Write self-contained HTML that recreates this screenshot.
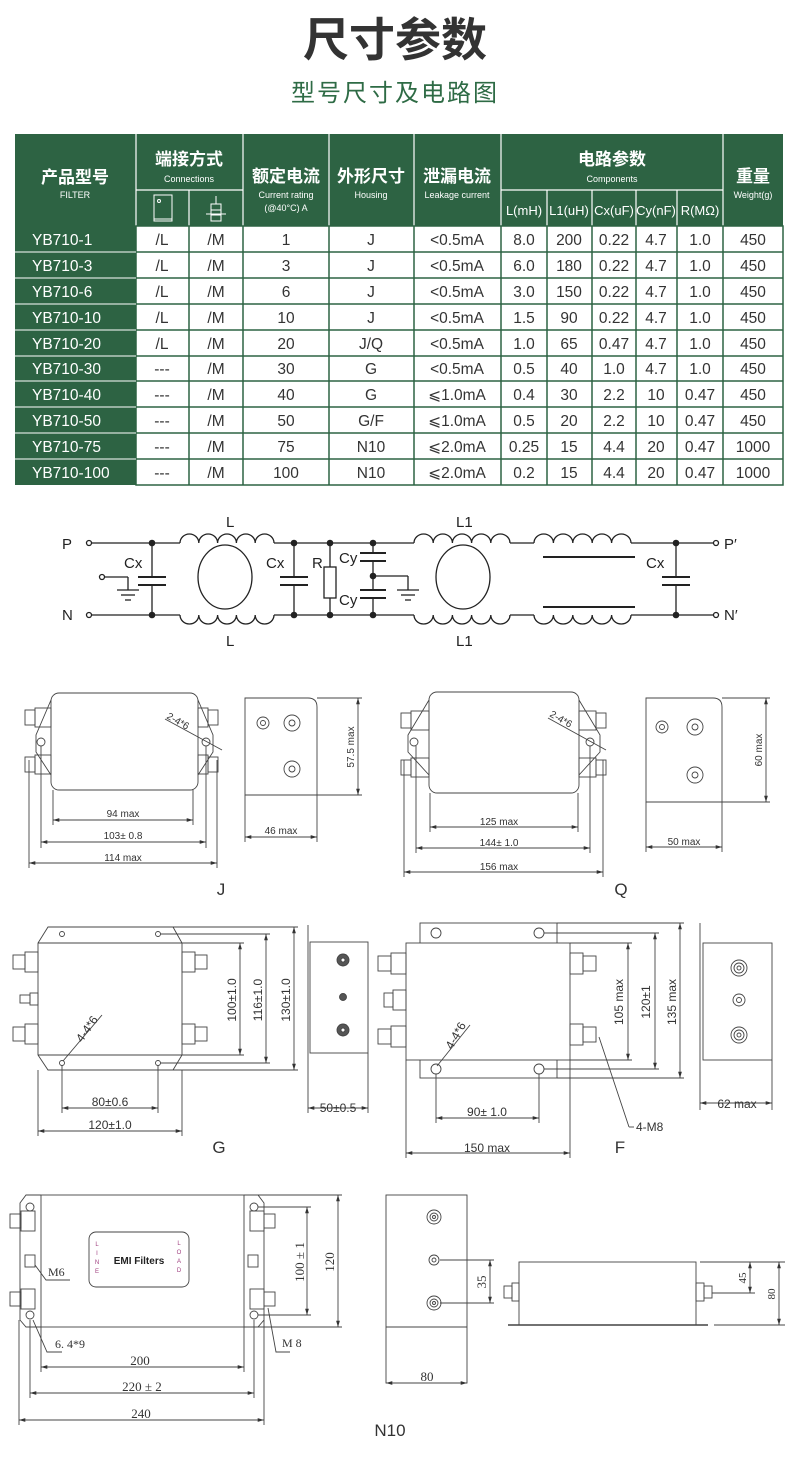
<!DOCTYPE html>
<html><head><meta charset="utf-8"><style>
html,body{margin:0;padding:0;background:#fff;}
svg{display:block;}
.t{font-family:"Liberation Sans","Noto Sans CJK SC",sans-serif;}
</style></head><body>
<svg width="790" height="1468" viewBox="0 0 790 1468" xmlns="http://www.w3.org/2000/svg" class="t">
<defs>
<marker id="a" viewBox="0 0 10 10" refX="10" refY="5" markerWidth="7" markerHeight="7" orient="auto-start-reverse"><path d="M0,2 L10,5 L0,8 z" fill="#333"/></marker>
</defs>
<!-- Titles -->
<text x="395" y="56" text-anchor="middle" font-size="46" font-weight="bold" fill="#333" font-family="Liberation Sans, Noto Sans CJK SC, sans-serif">尺寸参数</text>
<text x="395" y="101" text-anchor="middle" font-size="24" fill="#2e6b45" font-family="Liberation Sans, Noto Sans CJK SC, sans-serif" letter-spacing="2">型号尺寸及电路图</text>

<!-- Table header -->
<rect x="15" y="134" width="768" height="92" fill="#2d6343"/>
<g stroke="#fff" stroke-width="1.2">
<line x1="136" y1="134" x2="136" y2="226"/><line x1="243" y1="134" x2="243" y2="226"/>
<line x1="329" y1="134" x2="329" y2="226"/><line x1="414" y1="134" x2="414" y2="226"/>
<line x1="501" y1="134" x2="501" y2="226"/><line x1="723" y1="134" x2="723" y2="226"/>
<line x1="136" y1="190" x2="243" y2="190"/><line x1="501" y1="190" x2="723" y2="190"/>
<line x1="189" y1="190" x2="189" y2="226"/>
<line x1="547" y1="190" x2="547" y2="226"/><line x1="592" y1="190" x2="592" y2="226"/>
<line x1="636" y1="190" x2="636" y2="226"/><line x1="677" y1="190" x2="677" y2="226"/>
</g>
<g fill="#fff" text-anchor="middle" font-family="Liberation Sans, Noto Sans CJK SC, sans-serif">
<text x="75" y="183" font-size="17" font-weight="bold">产品型号</text>
<text x="75" y="198" font-size="9">FILTER</text>
<text x="189" y="165" font-size="17" font-weight="bold">端接方式</text>
<text x="189" y="182" font-size="9">Connections</text>
<text x="286" y="182" font-size="17" font-weight="bold">额定电流</text>
<text x="286" y="198" font-size="9">Current rating</text>
<text x="286" y="211" font-size="9">(@40°C)  A</text>
<text x="371" y="182" font-size="17" font-weight="bold">外形尺寸</text>
<text x="371" y="198" font-size="9">Housing</text>
<text x="457" y="182" font-size="17" font-weight="bold">泄漏电流</text>
<text x="457" y="198" font-size="9">Leakage current</text>
<text x="612" y="165" font-size="17" font-weight="bold">电路参数</text>
<text x="612" y="182" font-size="9">Components</text>
<text x="753" y="182" font-size="17" font-weight="bold">重量</text>
<text x="753" y="198" font-size="9">Weight(g)</text>
<g font-size="13"><text x="524" y="215">L(mH)</text><text x="569" y="215">L1(uH)</text><text x="614" y="215">Cx(uF)</text><text x="656" y="215">Cy(nF)</text><text x="700" y="215">R(MΩ)</text></g>
</g>
<rect x="154" y="195" width="18" height="26" fill="none" stroke="#fff"/><line x1="154" y1="219" x2="172" y2="219" stroke="#fff"/><circle cx="159" cy="201" r="1.5" fill="none" stroke="#fff"/>
<g stroke="#fff" fill="none"><rect x="211" y="204" width="10" height="17"/><line x1="211" y1="210" x2="221" y2="210"/><line x1="211" y1="215" x2="221" y2="215"/><line x1="216" y1="196" x2="216" y2="204"/><line x1="206" y1="214" x2="226" y2="214"/></g>

<!-- Table body -->
<g font-size="15.5" fill="#333" text-anchor="middle">
<rect x="15" y="226" width="121" height="259" fill="#2d6343"/>
<rect x="136" y="226" width="647" height="259" fill="#fff" stroke="#2d6343" stroke-width="1.5"/>
<g stroke="#2d6343" stroke-width="1.5">
<line x1="189" y1="226" x2="189" y2="485"/><line x1="243" y1="226" x2="243" y2="485"/><line x1="329" y1="226" x2="329" y2="485"/><line x1="414" y1="226" x2="414" y2="485"/><line x1="501" y1="226" x2="501" y2="485"/><line x1="547" y1="226" x2="547" y2="485"/><line x1="592" y1="226" x2="592" y2="485"/><line x1="636" y1="226" x2="636" y2="485"/><line x1="677" y1="226" x2="677" y2="485"/><line x1="723" y1="226" x2="723" y2="485"/>
</g>
<g stroke="#2d6343" stroke-width="1.5">
<line x1="136" y1="252" x2="783" y2="252"/><line x1="136" y1="278" x2="783" y2="278"/><line x1="136" y1="304" x2="783" y2="304"/><line x1="136" y1="330" x2="783" y2="330"/><line x1="136" y1="356" x2="783" y2="356"/><line x1="136" y1="381" x2="783" y2="381"/><line x1="136" y1="407" x2="783" y2="407"/><line x1="136" y1="433" x2="783" y2="433"/><line x1="136" y1="459" x2="783" y2="459"/>
</g>
<g stroke="#fff" stroke-width="1"><line x1="15" y1="252" x2="136" y2="252"/><line x1="15" y1="278" x2="136" y2="278"/><line x1="15" y1="304" x2="136" y2="304"/><line x1="15" y1="330" x2="136" y2="330"/><line x1="15" y1="356" x2="136" y2="356"/><line x1="15" y1="381" x2="136" y2="381"/><line x1="15" y1="407" x2="136" y2="407"/><line x1="15" y1="433" x2="136" y2="433"/><line x1="15" y1="459" x2="136" y2="459"/></g>
<g fill="#fff" text-anchor="start"><text x="32" y="245">YB710-1</text><text x="32" y="271">YB710-3</text><text x="32" y="297">YB710-6</text><text x="32" y="323">YB710-10</text><text x="32" y="349">YB710-20</text><text x="32" y="374">YB710-30</text><text x="32" y="400">YB710-40</text><text x="32" y="426">YB710-50</text><text x="32" y="452">YB710-75</text><text x="32" y="478">YB710-100</text></g>
<g>
<text x="162" y="245">/L</text><text x="216" y="245">/M</text><text x="286" y="245">1</text><text x="371" y="245">J</text><text x="457" y="245">&lt;0.5mA</text><text x="524" y="245">8.0</text><text x="569" y="245">200</text><text x="614" y="245">0.22</text><text x="656" y="245">4.7</text><text x="700" y="245">1.0</text><text x="753" y="245">450</text>
<text x="162" y="271">/L</text><text x="216" y="271">/M</text><text x="286" y="271">3</text><text x="371" y="271">J</text><text x="457" y="271">&lt;0.5mA</text><text x="524" y="271">6.0</text><text x="569" y="271">180</text><text x="614" y="271">0.22</text><text x="656" y="271">4.7</text><text x="700" y="271">1.0</text><text x="753" y="271">450</text>
<text x="162" y="297">/L</text><text x="216" y="297">/M</text><text x="286" y="297">6</text><text x="371" y="297">J</text><text x="457" y="297">&lt;0.5mA</text><text x="524" y="297">3.0</text><text x="569" y="297">150</text><text x="614" y="297">0.22</text><text x="656" y="297">4.7</text><text x="700" y="297">1.0</text><text x="753" y="297">450</text>
<text x="162" y="323">/L</text><text x="216" y="323">/M</text><text x="286" y="323">10</text><text x="371" y="323">J</text><text x="457" y="323">&lt;0.5mA</text><text x="524" y="323">1.5</text><text x="569" y="323">90</text><text x="614" y="323">0.22</text><text x="656" y="323">4.7</text><text x="700" y="323">1.0</text><text x="753" y="323">450</text>
<text x="162" y="349">/L</text><text x="216" y="349">/M</text><text x="286" y="349">20</text><text x="371" y="349">J/Q</text><text x="457" y="349">&lt;0.5mA</text><text x="524" y="349">1.0</text><text x="569" y="349">65</text><text x="614" y="349">0.47</text><text x="656" y="349">4.7</text><text x="700" y="349">1.0</text><text x="753" y="349">450</text>
<text x="162" y="374">---</text><text x="216" y="374">/M</text><text x="286" y="374">30</text><text x="371" y="374">G</text><text x="457" y="374">&lt;0.5mA</text><text x="524" y="374">0.5</text><text x="569" y="374">40</text><text x="614" y="374">1.0</text><text x="656" y="374">4.7</text><text x="700" y="374">1.0</text><text x="753" y="374">450</text>
<text x="162" y="400">---</text><text x="216" y="400">/M</text><text x="286" y="400">40</text><text x="371" y="400">G</text><text x="457" y="400">⩽1.0mA</text><text x="524" y="400">0.4</text><text x="569" y="400">30</text><text x="614" y="400">2.2</text><text x="656" y="400">10</text><text x="700" y="400">0.47</text><text x="753" y="400">450</text>
<text x="162" y="426">---</text><text x="216" y="426">/M</text><text x="286" y="426">50</text><text x="371" y="426">G/F</text><text x="457" y="426">⩽1.0mA</text><text x="524" y="426">0.5</text><text x="569" y="426">20</text><text x="614" y="426">2.2</text><text x="656" y="426">10</text><text x="700" y="426">0.47</text><text x="753" y="426">450</text>
<text x="162" y="452">---</text><text x="216" y="452">/M</text><text x="286" y="452">75</text><text x="371" y="452">N10</text><text x="457" y="452">⩽2.0mA</text><text x="524" y="452">0.25</text><text x="569" y="452">15</text><text x="614" y="452">4.4</text><text x="656" y="452">20</text><text x="700" y="452">0.47</text><text x="753" y="452">1000</text>
<text x="162" y="478">---</text><text x="216" y="478">/M</text><text x="286" y="478">100</text><text x="371" y="478">N10</text><text x="457" y="478">⩽2.0mA</text><text x="524" y="478">0.2</text><text x="569" y="478">15</text><text x="614" y="478">4.4</text><text x="656" y="478">20</text><text x="700" y="478">0.47</text><text x="753" y="478">1000</text>
</g>
</g>

<!-- Circuit -->
<g stroke="#222" stroke-width="1.3" fill="none">
<line x1="91" y1="543" x2="180" y2="543"/><line x1="274" y1="543" x2="414" y2="543"/><line x1="510" y1="543" x2="534" y2="543"/><line x1="631" y1="543" x2="713" y2="543"/>
<line x1="91" y1="615" x2="180" y2="615"/><line x1="274" y1="615" x2="414" y2="615"/><line x1="510" y1="615" x2="534" y2="615"/><line x1="631" y1="615" x2="713" y2="615"/>
<path d="M180,543 a9.4,9 0 0 1 18.8,0 a9.4,9 0 0 1 18.8,0 a9.4,9 0 0 1 18.8,0 a9.4,9 0 0 1 18.8,0 a9.4,9 0 0 1 18.8,0"/>
<path d="M180,615 a9.4,9 0 0 0 18.8,0 a9.4,9 0 0 0 18.8,0 a9.4,9 0 0 0 18.8,0 a9.4,9 0 0 0 18.8,0 a9.4,9 0 0 0 18.8,0"/>
<path d="M414,543 a9.6,9 0 0 1 19.2,0 a9.6,9 0 0 1 19.2,0 a9.6,9 0 0 1 19.2,0 a9.6,9 0 0 1 19.2,0 a9.6,9 0 0 1 19.2,0"/>
<path d="M414,615 a9.6,9 0 0 0 19.2,0 a9.6,9 0 0 0 19.2,0 a9.6,9 0 0 0 19.2,0 a9.6,9 0 0 0 19.2,0 a9.6,9 0 0 0 19.2,0"/>
<path d="M534,543 a9.7,9 0 0 1 19.4,0 a9.7,9 0 0 1 19.4,0 a9.7,9 0 0 1 19.4,0 a9.7,9 0 0 1 19.4,0 a9.7,9 0 0 1 19.4,0"/>
<path d="M534,615 a9.7,9 0 0 0 19.4,0 a9.7,9 0 0 0 19.4,0 a9.7,9 0 0 0 19.4,0 a9.7,9 0 0 0 19.4,0 a9.7,9 0 0 0 19.4,0"/>
<circle cx="89" cy="543" r="2.5"/><circle cx="89" cy="615" r="2.5"/><circle cx="716" cy="543" r="2.5"/><circle cx="716" cy="615" r="2.5"/>
<ellipse cx="225" cy="577" rx="27" ry="32"/><ellipse cx="463" cy="577" rx="27" ry="32"/>
<line x1="543" y1="557" x2="635" y2="557" stroke-width="2"/><line x1="543" y1="607" x2="635" y2="607" stroke-width="2"/>
<!-- Cx1 -->
<line x1="152" y1="543" x2="152" y2="577"/><line x1="152" y1="585" x2="152" y2="615"/><line x1="138" y1="577" x2="166" y2="577" stroke-width="2"/><line x1="138" y1="585" x2="166" y2="585" stroke-width="2"/>
<circle cx="102" cy="577" r="2.5"/><line x1="104" y1="577" x2="128" y2="577"/><line x1="128" y1="577" x2="128" y2="590"/><line x1="117" y1="590" x2="139" y2="590"/><line x1="121" y1="595" x2="135" y2="595"/><line x1="125" y1="600" x2="131" y2="600"/>
<!-- Cx2 -->
<line x1="294" y1="543" x2="294" y2="577"/><line x1="294" y1="585" x2="294" y2="615"/><line x1="280" y1="577" x2="308" y2="577" stroke-width="2"/><line x1="280" y1="585" x2="308" y2="585" stroke-width="2"/>
<!-- R -->
<line x1="330" y1="543" x2="330" y2="567"/><rect x="324" y="567" width="12" height="31"/><line x1="330" y1="598" x2="330" y2="615"/>
<!-- Cy -->
<line x1="373" y1="543" x2="373" y2="553"/><line x1="360" y1="553" x2="386" y2="553" stroke-width="2"/><line x1="360" y1="561" x2="386" y2="561" stroke-width="2"/><line x1="373" y1="561" x2="373" y2="590"/><line x1="360" y1="590" x2="386" y2="590" stroke-width="2"/><line x1="360" y1="598" x2="386" y2="598" stroke-width="2"/><line x1="373" y1="598" x2="373" y2="615"/>
<line x1="373" y1="576" x2="408" y2="576"/><line x1="408" y1="576" x2="408" y2="590"/><line x1="397" y1="590" x2="419" y2="590"/><line x1="401" y1="595" x2="415" y2="595"/><line x1="405" y1="600" x2="411" y2="600"/>
<!-- Cx3 -->
<line x1="676" y1="543" x2="676" y2="577"/><line x1="676" y1="585" x2="676" y2="615"/><line x1="662" y1="577" x2="690" y2="577" stroke-width="2"/><line x1="662" y1="585" x2="690" y2="585" stroke-width="2"/>
</g>
<g fill="#222"><circle cx="152" cy="543" r="3.3"/><circle cx="152" cy="615" r="3.3"/><circle cx="294" cy="543" r="3.3"/><circle cx="294" cy="615" r="3.3"/><circle cx="330" cy="543" r="3.3"/><circle cx="330" cy="615" r="3.3"/><circle cx="373" cy="543" r="3.3"/><circle cx="373" cy="615" r="3.3"/><circle cx="373" cy="576" r="3.3"/><circle cx="676" cy="543" r="3.3"/><circle cx="676" cy="615" r="3.3"/></g>
<g font-size="15" fill="#222">
<text x="62" y="549">P</text><text x="62" y="620">N</text><text x="724" y="549">P′</text><text x="724" y="620">N′</text>
<text x="226" y="527">L</text><text x="226" y="646">L</text><text x="456" y="527">L1</text><text x="456" y="646">L1</text>
<text x="124" y="568">Cx</text><text x="266" y="568">Cx</text><text x="312" y="568">R</text><text x="339" y="563">Cy</text><text x="339" y="605">Cy</text><text x="646" y="568">Cx</text>
</g>

<!-- Drawings common style -->
<g stroke="#444" stroke-width="0.9" fill="none">
<!-- J front -->
<rect x="51" y="693" width="147" height="97" rx="8"/>
<path d="M51,700 L36,735 L36,752 L51,775 M198,700 L213,735 L213,752 L198,775"/>
<circle cx="41" cy="742" r="4"/><circle cx="206" cy="742" r="4"/>
<rect x="25" y="710" width="10" height="15"/><rect x="35" y="708" width="16" height="19"/><rect x="25" y="757" width="10" height="15"/><rect x="35" y="755" width="16" height="19"/>
<rect x="208" y="710" width="10" height="15"/><rect x="198" y="708" width="10" height="19"/><rect x="208" y="757" width="10" height="15"/><rect x="198" y="755" width="10" height="19"/>
<line x1="165" y1="719" x2="222" y2="750"/>
<line x1="53" y1="790" x2="53" y2="825"/><line x1="193" y1="790" x2="193" y2="825"/><line x1="41" y1="746" x2="41" y2="848"/><line x1="206" y1="746" x2="206" y2="848"/><line x1="29" y1="760" x2="29" y2="868"/><line x1="217" y1="760" x2="217" y2="868"/>
<line x1="53" y1="820" x2="193" y2="820" marker-start="url(#a)" marker-end="url(#a)"/>
<line x1="41" y1="842" x2="206" y2="842" marker-start="url(#a)" marker-end="url(#a)"/>
<line x1="29" y1="863" x2="217" y2="863" marker-start="url(#a)" marker-end="url(#a)"/>
<!-- J side -->
<path d="M245,698 L308,698 Q317,698 317,707 L317,795 L245,795 Z"/>
<line x1="245" y1="795" x2="245" y2="842"/><line x1="317" y1="795" x2="317" y2="842"/>
<line x1="245" y1="837" x2="317" y2="837" marker-start="url(#a)" marker-end="url(#a)"/>
<circle cx="263" cy="723" r="6"/><circle cx="263" cy="723" r="2.5"/><circle cx="292" cy="723" r="8"/><circle cx="292" cy="723" r="3"/><circle cx="292" cy="769" r="8"/><circle cx="292" cy="769" r="3"/>
<line x1="317" y1="698" x2="362" y2="698"/><line x1="317" y1="795" x2="362" y2="795"/>
<line x1="358" y1="698" x2="358" y2="795" marker-start="url(#a)" marker-end="url(#a)"/>
<!-- Q front -->
<rect x="429" y="692" width="150" height="101" rx="8"/>
<path d="M429,700 L408,735 L408,752 L429,775 M579,700 L600,735 L600,752 L579,775"/>
<circle cx="414" cy="742" r="4"/><circle cx="590" cy="742" r="4"/>
<rect x="401" y="713" width="10" height="15"/><rect x="411" y="711" width="18" height="19"/><rect x="401" y="760" width="10" height="15"/><rect x="411" y="758" width="18" height="19"/>
<rect x="596" y="713" width="10" height="15"/><rect x="579" y="711" width="17" height="19"/><rect x="596" y="760" width="10" height="15"/><rect x="579" y="758" width="17" height="19"/>
<line x1="548" y1="718" x2="606" y2="750"/>
<line x1="430" y1="793" x2="430" y2="832"/><line x1="578" y1="793" x2="578" y2="832"/><line x1="416" y1="746" x2="416" y2="853"/><line x1="590" y1="746" x2="590" y2="853"/><line x1="404" y1="760" x2="404" y2="877"/><line x1="603" y1="760" x2="603" y2="877"/>
<line x1="430" y1="827" x2="578" y2="827" marker-start="url(#a)" marker-end="url(#a)"/>
<line x1="416" y1="848" x2="590" y2="848" marker-start="url(#a)" marker-end="url(#a)"/>
<line x1="404" y1="872" x2="603" y2="872" marker-start="url(#a)" marker-end="url(#a)"/>
<!-- Q side -->
<path d="M646,698 L713,698 Q722,698 722,707 L722,802 L646,802 Z"/>
<line x1="646" y1="802" x2="646" y2="852"/><line x1="722" y1="802" x2="722" y2="852"/>
<line x1="646" y1="847" x2="722" y2="847" marker-start="url(#a)" marker-end="url(#a)"/>
<circle cx="662" cy="727" r="6"/><circle cx="662" cy="727" r="2.5"/><circle cx="695" cy="727" r="8"/><circle cx="695" cy="727" r="3"/><circle cx="695" cy="775" r="8"/><circle cx="695" cy="775" r="3"/>
<line x1="722" y1="698" x2="770" y2="698"/><line x1="722" y1="802" x2="770" y2="802"/>
<line x1="766" y1="698" x2="766" y2="802" marker-start="url(#a)" marker-end="url(#a)"/>

<!-- G front -->
<path d="M48,927 L173,927 L182,943 L182,1055 L173,1070 L48,1070 L38,1055 L38,943 Z"/>
<line x1="38" y1="943" x2="182" y2="943"/><line x1="38" y1="1055" x2="182" y2="1055"/>
<circle cx="62" cy="934" r="2.5"/><circle cx="158" cy="934" r="2.5"/><circle cx="62" cy="1063" r="2.5"/><circle cx="158" cy="1063" r="2.5"/>
<rect x="13" y="955" width="12" height="14"/><rect x="25" y="952" width="13" height="20"/><rect x="13" y="1027" width="12" height="14"/><rect x="25" y="1024" width="13" height="20"/><rect x="20" y="995" width="10" height="8"/><rect x="30" y="993" width="8" height="12"/>
<rect x="195" y="955" width="12" height="14"/><rect x="182" y="952" width="13" height="20"/><rect x="195" y="1027" width="12" height="14"/><rect x="182" y="1024" width="13" height="20"/>
<line x1="182" y1="943" x2="244" y2="943"/><line x1="182" y1="1055" x2="244" y2="1055"/><line x1="160" y1="934" x2="270" y2="934"/><line x1="160" y1="1063" x2="270" y2="1063"/><line x1="173" y1="927" x2="298" y2="927"/><line x1="173" y1="1070" x2="298" y2="1070"/>
<line x1="240" y1="943" x2="240" y2="1055" marker-start="url(#a)" marker-end="url(#a)"/>
<line x1="266" y1="934" x2="266" y2="1063" marker-start="url(#a)" marker-end="url(#a)"/>
<line x1="294" y1="927" x2="294" y2="1070" marker-start="url(#a)" marker-end="url(#a)"/>
<line x1="62" y1="1065" x2="62" y2="1113"/><line x1="158" y1="1065" x2="158" y2="1113"/><line x1="38" y1="1070" x2="38" y2="1136"/><line x1="182" y1="1070" x2="182" y2="1136"/>
<line x1="62" y1="1108" x2="158" y2="1108" marker-start="url(#a)" marker-end="url(#a)"/>
<line x1="38" y1="1131" x2="182" y2="1131" marker-start="url(#a)" marker-end="url(#a)"/>
<line x1="63" y1="1061" x2="102" y2="1015"/>
<!-- G side -->
<rect x="310" y="942" width="58" height="111"/><line x1="308" y1="925" x2="308" y2="1113"/>
<line x1="368" y1="1053" x2="368" y2="1113"/>
<line x1="308" y1="1108" x2="368" y2="1108" marker-start="url(#a)" marker-end="url(#a)"/>
<circle cx="343" cy="960" r="6" fill="#555"/><circle cx="343" cy="960" r="2" fill="#fff"/><circle cx="343" cy="997" r="3.5" fill="#555"/><circle cx="343" cy="1030" r="6" fill="#555"/><circle cx="343" cy="1030" r="2" fill="#fff"/>
<!-- F front -->
<rect x="420" y="923" width="137" height="155"/><rect x="406" y="943" width="164" height="117" fill="#fff"/>
<circle cx="436" cy="933" r="5"/><circle cx="539" cy="933" r="5"/><circle cx="436" cy="1069" r="5"/><circle cx="539" cy="1069" r="5"/>
<rect x="378" y="956" width="13" height="15"/><rect x="391" y="953" width="15" height="21"/><rect x="384" y="993" width="9" height="14"/><rect x="393" y="990" width="13" height="20"/><rect x="378" y="1029" width="13" height="15"/><rect x="391" y="1026" width="15" height="21"/>
<rect x="583" y="956" width="13" height="15"/><rect x="570" y="953" width="13" height="21"/><rect x="583" y="1027" width="13" height="15"/><rect x="570" y="1024" width="13" height="21"/>
<line x1="570" y1="943" x2="632" y2="943"/><line x1="570" y1="1060" x2="632" y2="1060"/><line x1="544" y1="933" x2="659" y2="933"/><line x1="544" y1="1069" x2="659" y2="1069"/><line x1="557" y1="923" x2="684" y2="923"/><line x1="557" y1="1078" x2="684" y2="1078"/>
<line x1="628" y1="943" x2="628" y2="1060" marker-start="url(#a)" marker-end="url(#a)"/>
<line x1="655" y1="933" x2="655" y2="1069" marker-start="url(#a)" marker-end="url(#a)"/>
<line x1="680" y1="923" x2="680" y2="1078" marker-start="url(#a)" marker-end="url(#a)"/>
<line x1="436" y1="1074" x2="436" y2="1123"/><line x1="539" y1="1074" x2="539" y2="1123"/><line x1="406" y1="1060" x2="406" y2="1158"/><line x1="570" y1="1060" x2="570" y2="1158"/>
<line x1="436" y1="1118" x2="539" y2="1118" marker-start="url(#a)" marker-end="url(#a)"/>
<line x1="406" y1="1153" x2="570" y2="1153" marker-start="url(#a)" marker-end="url(#a)"/>
<line x1="437" y1="1066" x2="470" y2="1025"/>
<line x1="599" y1="1037" x2="629" y2="1127"/><line x1="629" y1="1127" x2="634" y2="1127"/>
<!-- F side -->
<rect x="703" y="943" width="69" height="117"/><line x1="700" y1="923" x2="700" y2="1110"/>
<line x1="772" y1="1060" x2="772" y2="1110"/>
<line x1="700" y1="1103" x2="772" y2="1103" marker-start="url(#a)" marker-end="url(#a)"/>
<circle cx="739" cy="968" r="8"/><circle cx="739" cy="968" r="5"/><circle cx="739" cy="968" r="2"/><circle cx="739" cy="1000" r="6"/><circle cx="739" cy="1000" r="2.5"/><circle cx="739" cy="1035" r="8"/><circle cx="739" cy="1035" r="5"/><circle cx="739" cy="1035" r="2"/>

<!-- N10 front -->
<rect x="41" y="1195" width="203" height="132"/>
<path d="M41,1195 L26,1195 L20,1203 L20,1320 L26,1327 L41,1327"/><path d="M244,1195 L258,1195 L264,1203 L264,1320 L258,1327 L244,1327"/>
<circle cx="30" cy="1207" r="4"/><circle cx="30" cy="1315" r="4"/><circle cx="254" cy="1207" r="4"/><circle cx="254" cy="1315" r="4"/>
<rect x="10" y="1214" width="11" height="14"/><rect x="21" y="1211" width="14" height="20"/><rect x="10" y="1292" width="11" height="14"/><rect x="21" y="1289" width="14" height="20"/><rect x="25" y="1255" width="10" height="12"/>
<rect x="264" y="1214" width="11" height="14"/><rect x="250" y="1211" width="14" height="20"/><rect x="264" y="1292" width="11" height="14"/><rect x="250" y="1289" width="14" height="20"/><rect x="248" y="1255" width="10" height="12"/>
<rect x="89" y="1232" width="100" height="55" rx="7"/>
<line x1="258" y1="1207" x2="311" y2="1207"/><line x1="258" y1="1315" x2="311" y2="1315"/><line x1="244" y1="1195" x2="342" y2="1195"/><line x1="244" y1="1327" x2="342" y2="1327"/>
<line x1="307" y1="1207" x2="307" y2="1315" marker-start="url(#a)" marker-end="url(#a)"/>
<line x1="338" y1="1195" x2="338" y2="1327" marker-start="url(#a)" marker-end="url(#a)"/>
<line x1="41" y1="1327" x2="41" y2="1372"/><line x1="244" y1="1327" x2="244" y2="1372"/><line x1="30" y1="1320" x2="30" y2="1398"/><line x1="254" y1="1320" x2="254" y2="1398"/><line x1="19" y1="1320" x2="19" y2="1425"/><line x1="264" y1="1320" x2="264" y2="1425"/>
<line x1="41" y1="1367" x2="244" y2="1367" marker-start="url(#a)" marker-end="url(#a)"/>
<line x1="30" y1="1393" x2="254" y2="1393" marker-start="url(#a)" marker-end="url(#a)"/>
<line x1="19" y1="1420" x2="264" y2="1420" marker-start="url(#a)" marker-end="url(#a)"/>
<path d="M35,1265 L46,1280 L70,1280"/><path d="M33,1320 L47,1352 L62,1352"/><path d="M268,1308 L276,1352 L290,1352"/>
<!-- N10 side -->
<rect x="386" y="1195" width="81" height="188"/><line x1="386" y1="1327" x2="467" y2="1327"/>
<line x1="386" y1="1383" x2="467" y2="1383" marker-start="url(#a)" marker-end="url(#a)"/>
<circle cx="434" cy="1217" r="7"/><circle cx="434" cy="1217" r="4"/><circle cx="434" cy="1217" r="1.5"/><circle cx="434" cy="1260" r="5"/><circle cx="434" cy="1260" r="2"/><circle cx="434" cy="1303" r="7"/><circle cx="434" cy="1303" r="4"/><circle cx="434" cy="1303" r="1.5"/>
<line x1="440" y1="1260" x2="494" y2="1260"/><line x1="440" y1="1303" x2="494" y2="1303"/>
<line x1="490" y1="1260" x2="490" y2="1303" marker-start="url(#a)" marker-end="url(#a)"/>
<!-- N10 bottom view -->
<rect x="519" y="1262" width="177" height="63"/><line x1="508" y1="1325" x2="708" y2="1325" stroke-width="1.6"/>
<rect x="504" y="1286" width="8" height="12"/><rect x="512" y="1283" width="7" height="18"/><rect x="704" y="1286" width="8" height="12"/><rect x="696" y="1283" width="8" height="18"/>
<line x1="700" y1="1262" x2="785" y2="1262"/><line x1="712" y1="1293" x2="755" y2="1293"/><line x1="714" y1="1325" x2="785" y2="1325"/>
<line x1="750" y1="1262" x2="750" y2="1293" marker-start="url(#a)" marker-end="url(#a)"/>
<line x1="779" y1="1262" x2="779" y2="1325" marker-start="url(#a)" marker-end="url(#a)"/>
</g>

<!-- Drawing texts -->
<g font-size="10" fill="#333">
<text x="123" y="817" text-anchor="middle">94 max</text><text x="123" y="839" text-anchor="middle">103± 0.8</text><text x="123" y="861" text-anchor="middle">114 max</text>
<text x="281" y="834" text-anchor="middle">46 max</text>
<text transform="translate(354,747) rotate(-90)" text-anchor="middle">57.5 max</text>
<text transform="translate(166,718) rotate(30)">2-4*6</text>
<text x="499" y="825" text-anchor="middle">125 max</text><text x="499" y="846" text-anchor="middle">144± 1.0</text><text x="499" y="870" text-anchor="middle">156 max</text>
<text x="684" y="845" text-anchor="middle">50 max</text>
<text transform="translate(762,750) rotate(-90)" text-anchor="middle">60 max</text>
<text transform="translate(549,716) rotate(30)">2-4*6</text>
</g>
<g font-size="12" fill="#333">
<text x="110" y="1106" text-anchor="middle">80±0.6</text><text x="110" y="1129" text-anchor="middle">120±1.0</text>
<text x="338" y="1112" text-anchor="middle">50±0.5</text>
<text transform="translate(236,1000) rotate(-90)" text-anchor="middle">100±1.0</text>
<text transform="translate(262,1000) rotate(-90)" text-anchor="middle">116±1.0</text>
<text transform="translate(290,1000) rotate(-90)" text-anchor="middle">130±1.0</text>
<text transform="translate(82,1043) rotate(-55)">4-4*6</text>
<text x="487" y="1116" text-anchor="middle">90± 1.0</text><text x="487" y="1152" text-anchor="middle">150 max</text>
<text x="737" y="1108" text-anchor="middle">62 max</text>
<text x="636" y="1131">4-M8</text>
<text transform="translate(623,1002) rotate(-90)" text-anchor="middle">105 max</text>
<text transform="translate(650,1002) rotate(-90)" text-anchor="middle">120±1</text>
<text transform="translate(676,1002) rotate(-90)" text-anchor="middle">135 max</text>
<text transform="translate(452,1050) rotate(-60)">4-4*6</text>
</g>
<g font-size="13" fill="#333" font-family="Liberation Serif, serif">
<text x="140" y="1365" text-anchor="middle">200</text><text x="142" y="1391" text-anchor="middle">220 ± 2</text><text x="141" y="1418" text-anchor="middle">240</text>
<text x="48" y="1276" font-size="12">M6</text><text x="55" y="1348" font-size="12">6. 4*9</text><text x="282" y="1347" font-size="12">M 8</text>
<text transform="translate(304,1262) rotate(-90)" text-anchor="middle">100 ± 1</text>
<text transform="translate(334,1262) rotate(-90)" text-anchor="middle">120</text>
<text x="427" y="1381" text-anchor="middle">80</text>
<text transform="translate(486,1282) rotate(-90)" text-anchor="middle">35</text>
<text transform="translate(746,1278) rotate(-90)" text-anchor="middle" font-size="11">45</text>
<text transform="translate(775,1294) rotate(-90)" text-anchor="middle" font-size="11">80</text>
</g>
<text x="139" y="1264" font-size="10" font-weight="bold" fill="#222" text-anchor="middle">EMI Filters</text>
<g font-size="6" fill="#a04080" text-anchor="middle"><text x="97" y="1246">L</text><text x="97" y="1255">I</text><text x="97" y="1264">N</text><text x="97" y="1273">E</text><text x="179" y="1245">L</text><text x="179" y="1254">O</text><text x="179" y="1263">A</text><text x="179" y="1272">D</text></g>
<g font-size="17" fill="#333" text-anchor="middle">
<text x="221" y="895">J</text><text x="621" y="895">Q</text><text x="219" y="1153">G</text><text x="620" y="1153">F</text><text x="390" y="1436">N10</text>
</g>
</svg>
</body></html>
